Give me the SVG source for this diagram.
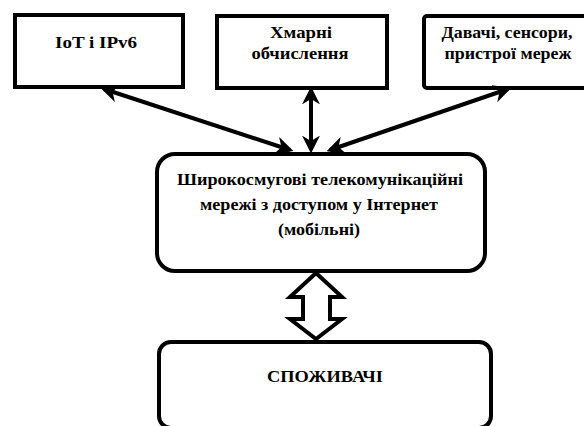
<svg xmlns="http://www.w3.org/2000/svg" width="584" height="426" viewBox="0 0 584 426">
<style>
.box{fill:#fff;stroke:#000;stroke-width:4}
.t{font-family:"Liberation Serif","Times New Roman",serif;font-weight:bold;font-size:16px;fill:#000;text-anchor:middle}
.ln{stroke:#000;stroke-width:4;fill:none}
</style>
<defs>
<marker id="ah" viewBox="0 0 10 10" refX="8" refY="5" markerWidth="4.5" markerHeight="4.5" orient="auto-start-reverse" markerUnits="strokeWidth">
<path d="M0,0 L10,5 L0,10 L3,5 Z" fill="#000"/>
</marker>
</defs>
<rect width="584" height="426" fill="#fff"/>
<g id="n-iot"><rect class="box" x="15" y="15" width="168" height="72"/><text class="t" x="96" y="48" textLength="82" lengthAdjust="spacingAndGlyphs">IoT і IPv6</text></g>
<g id="n-cloud"><rect class="box" x="217" y="16" width="170" height="72"/><text class="t" x="301" y="38" textLength="62" lengthAdjust="spacingAndGlyphs">Хмарні</text><text class="t" x="300" y="59" textLength="97" lengthAdjust="spacingAndGlyphs">обчислення</text></g>
<g id="n-sensors"><rect class="box" x="424" y="16" width="170" height="72" rx="3"/><text class="t" x="507" y="38" textLength="131" lengthAdjust="spacingAndGlyphs">Давачі, сенсори,</text><text class="t" x="508" y="59" textLength="127" lengthAdjust="spacingAndGlyphs">пристрої мереж</text></g>
<g id="n-net"><rect class="box" x="157" y="154" width="328" height="117" rx="18"/><text class="t" x="320" y="185" textLength="286" lengthAdjust="spacingAndGlyphs">Широкосмугові телекомунікаційні</text><text class="t" x="319" y="210" textLength="238" lengthAdjust="spacingAndGlyphs">мережі з доступом у Інтернет</text><text class="t" x="319" y="235" textLength="82" lengthAdjust="spacingAndGlyphs">(мобільні)</text></g>
<g id="n-consumers"><rect class="box" x="159" y="342" width="332" height="86" rx="12"/><text class="t" x="325" y="382" textLength="116" lengthAdjust="spacingAndGlyphs">СПОЖИВАЧІ</text></g>
<g id="connectors">
<line class="ln" x1="104" y1="89" x2="290" y2="150" marker-start="url(#ah)" marker-end="url(#ah)"/>
<line class="ln" x1="311" y1="90" x2="311" y2="150" marker-start="url(#ah)" marker-end="url(#ah)"/>
<line class="ln" x1="508" y1="89" x2="330" y2="150" marker-start="url(#ah)" marker-end="url(#ah)"/>
<path d="M316,273 L342,297 L330,297 L330,319 L342,319 L316,339 L290,319 L303,319 L303,297 L290,297 Z" fill="#fff" stroke="#000" stroke-width="4" stroke-linejoin="miter"/>
</g>
</svg>
